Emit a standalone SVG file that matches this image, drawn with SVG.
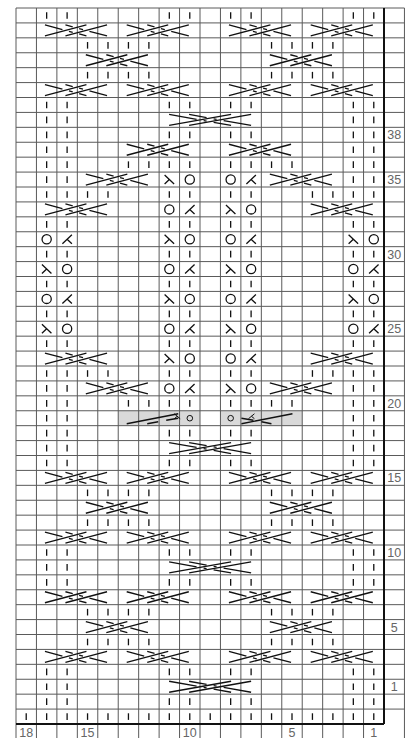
<svg xmlns="http://www.w3.org/2000/svg" width="413" height="738" viewBox="0 0 413 738">
<style>
.g{stroke:#5a5a5a;stroke-width:1;fill:none}
.tk{stroke:#111;stroke-width:2;fill:none}
.s{stroke:#111;stroke-width:1.3;fill:none;stroke-linecap:butt}
.n{font-family:"Liberation Sans",Arial,sans-serif;font-size:12.5px;fill:#666;text-anchor:middle}
</style>
<defs>
<line id="I" class="s" x1="10.22" y1="4.2" x2="10.22" y2="10.8"/>
<circle id="O" class="s" cx="10.22" cy="7.46" r="4.6"/>
<path id="R" class="s" d="M5.5,3 L15,12 M10.2,7.5 L5.5,12"/>
<path id="L" class="s" d="M15,3 L5.5,12 M10.2,7.5 L15,12"/>
<g id="C4" class="s">
<path d="M8.5,13 L50,2 M29,13 L70.6,2"/>
<path d="M8.5,2 L26,6.64 M32.5,8.36 L36.3,9.37 M42.7,11.06 L50,13 M29,2 L36.3,3.93 M42.7,5.62 L46.6,6.65 M53,8.35 L70.6,13"/>
</g>
<g id="C5" class="s">
<path d="M10,13 L72,2 M30,13 L92,2"/>
<path d="M10,2 L37.5,6.88 M44.5,8.12 L47.5,8.65 M54.5,9.9 L72,13 M30,2 L47.5,5.1 M54.5,6.35 L57.5,6.88 M64.5,8.12 L92,13"/>
</g>
<g id="GL" class="s">
<path d="M8.5,13 L60,3"/>
<path d="M29,13 L40,11 M48,9.5 L60,7.5"/>
<path d="M56,3 L62,8 M59,5.5 L56,8" stroke-width="1"/>
<circle cx="71.6" cy="7.46" r="2.8" stroke-width="1"/>
</g>
<g id="GR" class="s">
<circle cx="10.22" cy="7.46" r="2.8" stroke-width="1"/>
<path d="M21,13 L72,3"/>
<path d="M21,7.5 L33,9.5 M41,11 L51,13"/>
<path d="M34,3 L28,8 M31,5.5 L34,8" stroke-width="1"/>
</g>
</defs>
<rect x="118.22" y="410.75" width="81.78" height="14.92" fill="#d9d9d9"/>
<rect x="220.44" y="410.75" width="81.78" height="14.92" fill="#d9d9d9"/>
<g id="grid">
<path class="g" d="M16,8V738.9M36.44,8V738.9M56.89,8V738.9M77.33,8V738.9M97.78,8V738.9M118.22,8V738.9M138.67,8V738.9M159.11,8V738.9M179.56,8V738.9M200,8V738.9M220.44,8V738.9M240.89,8V738.9M261.33,8V738.9M281.78,8V738.9M302.22,8V738.9M322.67,8V738.9M343.11,8V738.9M363.56,8V738.9M404.44,8V738.9"/>
<path class="g" d="M16,8H404.44M16,22.92H404.44M16,37.83H404.44M16,52.75H404.44M16,67.67H404.44M16,82.58H404.44M16,97.5H404.44M16,112.42H404.44M16,127.33H404.44M16,142.25H404.44M16,157.17H404.44M16,172.08H404.44M16,187H404.44M16,201.92H404.44M16,216.83H404.44M16,231.75H404.44M16,246.67H404.44M16,261.58H404.44M16,276.5H404.44M16,291.42H404.44M16,306.33H404.44M16,321.25H404.44M16,336.17H404.44M16,351.08H404.44M16,366H404.44M16,380.92H404.44M16,395.83H404.44M16,410.75H404.44M16,425.67H404.44M16,440.58H404.44M16,455.5H404.44M16,470.42H404.44M16,485.33H404.44M16,500.25H404.44M16,515.17H404.44M16,530.08H404.44M16,545H404.44M16,559.92H404.44M16,574.83H404.44M16,589.75H404.44M16,604.67H404.44M16,619.58H404.44M16,634.5H404.44M16,649.42H404.44M16,664.33H404.44M16,679.25H404.44M16,694.17H404.44M16,709.08H404.44"/>
<path class="tk" d="M384,8V724M16,724H384"/>
</g>
<g id="labels">
<text class="n" x="394.2" y="139">38</text>
<text class="n" x="394.2" y="184">35</text>
<text class="n" x="394.2" y="258.5">30</text>
<text class="n" x="394.2" y="333">25</text>
<text class="n" x="394.2" y="407.7">20</text>
<text class="n" x="394.2" y="482.3">15</text>
<text class="n" x="394.2" y="556.9">10</text>
<text class="n" x="394.2" y="631.5">5</text>
<text class="n" x="394.2" y="691">1</text>
<text class="n" x="26.22" y="736.5">18</text>
<text class="n" x="87.55" y="736.5">15</text>
<text class="n" x="189.78" y="736.5">10</text>
<text class="n" x="292" y="736.5">5</text>
<text class="n" x="373.78" y="736.5">1</text>
</g>
<g id="stitches">
<use href="#I" x="36.44" y="8"/><use href="#I" x="56.89" y="8"/><use href="#I" x="159.11" y="8"/><use href="#I" x="179.56" y="8"/><use href="#I" x="220.44" y="8"/><use href="#I" x="240.89" y="8"/><use href="#I" x="343.11" y="8"/><use href="#I" x="363.56" y="8"/>
<use href="#C4" x="36.44" y="22.92"/><use href="#C4" x="118.22" y="22.92"/><use href="#C4" x="220.44" y="22.92"/><use href="#C4" x="302.22" y="22.92"/>
<use href="#I" x="77.33" y="37.83"/><use href="#I" x="97.78" y="37.83"/><use href="#I" x="118.22" y="37.83"/><use href="#I" x="138.67" y="37.83"/><use href="#I" x="261.33" y="37.83"/><use href="#I" x="281.78" y="37.83"/><use href="#I" x="302.22" y="37.83"/><use href="#I" x="322.67" y="37.83"/>
<use href="#C4" x="77.33" y="52.75"/><use href="#C4" x="261.33" y="52.75"/>
<use href="#I" x="77.33" y="67.67"/><use href="#I" x="97.78" y="67.67"/><use href="#I" x="118.22" y="67.67"/><use href="#I" x="138.67" y="67.67"/><use href="#I" x="261.33" y="67.67"/><use href="#I" x="281.78" y="67.67"/><use href="#I" x="302.22" y="67.67"/><use href="#I" x="322.67" y="67.67"/>
<use href="#C4" x="36.44" y="82.58"/><use href="#C4" x="118.22" y="82.58"/><use href="#C4" x="220.44" y="82.58"/><use href="#C4" x="302.22" y="82.58"/>
<use href="#I" x="36.44" y="97.5"/><use href="#I" x="56.89" y="97.5"/><use href="#I" x="159.11" y="97.5"/><use href="#I" x="179.56" y="97.5"/><use href="#I" x="220.44" y="97.5"/><use href="#I" x="240.89" y="97.5"/><use href="#I" x="343.11" y="97.5"/><use href="#I" x="363.56" y="97.5"/>
<use href="#I" x="36.44" y="112.42"/><use href="#I" x="56.89" y="112.42"/><use href="#C5" x="159.11" y="112.42"/><use href="#I" x="343.11" y="112.42"/><use href="#I" x="363.56" y="112.42"/>
<use href="#I" x="36.44" y="127.33"/><use href="#I" x="56.89" y="127.33"/><use href="#I" x="159.11" y="127.33"/><use href="#I" x="179.56" y="127.33"/><use href="#I" x="220.44" y="127.33"/><use href="#I" x="240.89" y="127.33"/><use href="#I" x="343.11" y="127.33"/><use href="#I" x="363.56" y="127.33"/>
<use href="#I" x="36.44" y="142.25"/><use href="#I" x="56.89" y="142.25"/><use href="#C4" x="118.22" y="142.25"/><use href="#C4" x="220.44" y="142.25"/><use href="#I" x="343.11" y="142.25"/><use href="#I" x="363.56" y="142.25"/>
<use href="#I" x="36.44" y="157.17"/><use href="#I" x="56.89" y="157.17"/><use href="#I" x="118.22" y="157.17"/><use href="#I" x="138.67" y="157.17"/><use href="#I" x="159.11" y="157.17"/><use href="#I" x="179.56" y="157.17"/><use href="#I" x="220.44" y="157.17"/><use href="#I" x="240.89" y="157.17"/><use href="#I" x="261.33" y="157.17"/><use href="#I" x="281.78" y="157.17"/><use href="#I" x="343.11" y="157.17"/><use href="#I" x="363.56" y="157.17"/>
<use href="#I" x="36.44" y="172.08"/><use href="#I" x="56.89" y="172.08"/><use href="#C4" x="77.33" y="172.08"/><use href="#R" x="159.11" y="172.08"/><use href="#O" x="179.56" y="172.08"/><use href="#O" x="220.44" y="172.08"/><use href="#L" x="240.89" y="172.08"/><use href="#C4" x="261.33" y="172.08"/><use href="#I" x="343.11" y="172.08"/><use href="#I" x="363.56" y="172.08"/>
<use href="#I" x="36.44" y="187"/><use href="#I" x="56.89" y="187"/><use href="#I" x="77.33" y="187"/><use href="#I" x="97.78" y="187"/><use href="#I" x="159.11" y="187"/><use href="#I" x="179.56" y="187"/><use href="#I" x="220.44" y="187"/><use href="#I" x="240.89" y="187"/><use href="#I" x="302.22" y="187"/><use href="#I" x="322.67" y="187"/><use href="#I" x="343.11" y="187"/><use href="#I" x="363.56" y="187"/>
<use href="#C4" x="36.44" y="201.92"/><use href="#O" x="159.11" y="201.92"/><use href="#L" x="179.56" y="201.92"/><use href="#R" x="220.44" y="201.92"/><use href="#O" x="240.89" y="201.92"/><use href="#C4" x="302.22" y="201.92"/>
<use href="#I" x="36.44" y="216.83"/><use href="#I" x="56.89" y="216.83"/><use href="#I" x="159.11" y="216.83"/><use href="#I" x="179.56" y="216.83"/><use href="#I" x="220.44" y="216.83"/><use href="#I" x="240.89" y="216.83"/><use href="#I" x="343.11" y="216.83"/><use href="#I" x="363.56" y="216.83"/>
<use href="#O" x="36.44" y="231.75"/><use href="#L" x="56.89" y="231.75"/><use href="#R" x="159.11" y="231.75"/><use href="#O" x="179.56" y="231.75"/><use href="#O" x="220.44" y="231.75"/><use href="#L" x="240.89" y="231.75"/><use href="#R" x="343.11" y="231.75"/><use href="#O" x="363.56" y="231.75"/>
<use href="#I" x="36.44" y="246.67"/><use href="#I" x="56.89" y="246.67"/><use href="#I" x="159.11" y="246.67"/><use href="#I" x="179.56" y="246.67"/><use href="#I" x="220.44" y="246.67"/><use href="#I" x="240.89" y="246.67"/><use href="#I" x="343.11" y="246.67"/><use href="#I" x="363.56" y="246.67"/>
<use href="#R" x="36.44" y="261.58"/><use href="#O" x="56.89" y="261.58"/><use href="#O" x="159.11" y="261.58"/><use href="#L" x="179.56" y="261.58"/><use href="#R" x="220.44" y="261.58"/><use href="#O" x="240.89" y="261.58"/><use href="#O" x="343.11" y="261.58"/><use href="#L" x="363.56" y="261.58"/>
<use href="#I" x="36.44" y="276.5"/><use href="#I" x="56.89" y="276.5"/><use href="#I" x="159.11" y="276.5"/><use href="#I" x="179.56" y="276.5"/><use href="#I" x="220.44" y="276.5"/><use href="#I" x="240.89" y="276.5"/><use href="#I" x="343.11" y="276.5"/><use href="#I" x="363.56" y="276.5"/>
<use href="#O" x="36.44" y="291.42"/><use href="#L" x="56.89" y="291.42"/><use href="#R" x="159.11" y="291.42"/><use href="#O" x="179.56" y="291.42"/><use href="#O" x="220.44" y="291.42"/><use href="#L" x="240.89" y="291.42"/><use href="#R" x="343.11" y="291.42"/><use href="#O" x="363.56" y="291.42"/>
<use href="#I" x="36.44" y="306.33"/><use href="#I" x="56.89" y="306.33"/><use href="#I" x="159.11" y="306.33"/><use href="#I" x="179.56" y="306.33"/><use href="#I" x="220.44" y="306.33"/><use href="#I" x="240.89" y="306.33"/><use href="#I" x="343.11" y="306.33"/><use href="#I" x="363.56" y="306.33"/>
<use href="#R" x="36.44" y="321.25"/><use href="#O" x="56.89" y="321.25"/><use href="#O" x="159.11" y="321.25"/><use href="#L" x="179.56" y="321.25"/><use href="#R" x="220.44" y="321.25"/><use href="#O" x="240.89" y="321.25"/><use href="#O" x="343.11" y="321.25"/><use href="#L" x="363.56" y="321.25"/>
<use href="#I" x="36.44" y="336.17"/><use href="#I" x="56.89" y="336.17"/><use href="#I" x="159.11" y="336.17"/><use href="#I" x="179.56" y="336.17"/><use href="#I" x="220.44" y="336.17"/><use href="#I" x="240.89" y="336.17"/><use href="#I" x="343.11" y="336.17"/><use href="#I" x="363.56" y="336.17"/>
<use href="#C4" x="36.44" y="351.08"/><use href="#R" x="159.11" y="351.08"/><use href="#O" x="179.56" y="351.08"/><use href="#O" x="220.44" y="351.08"/><use href="#L" x="240.89" y="351.08"/><use href="#C4" x="302.22" y="351.08"/>
<use href="#I" x="36.44" y="366"/><use href="#I" x="56.89" y="366"/><use href="#I" x="77.33" y="366"/><use href="#I" x="97.78" y="366"/><use href="#I" x="159.11" y="366"/><use href="#I" x="179.56" y="366"/><use href="#I" x="220.44" y="366"/><use href="#I" x="240.89" y="366"/><use href="#I" x="302.22" y="366"/><use href="#I" x="322.67" y="366"/><use href="#I" x="343.11" y="366"/><use href="#I" x="363.56" y="366"/>
<use href="#I" x="36.44" y="380.92"/><use href="#I" x="56.89" y="380.92"/><use href="#C4" x="77.33" y="380.92"/><use href="#O" x="159.11" y="380.92"/><use href="#L" x="179.56" y="380.92"/><use href="#R" x="220.44" y="380.92"/><use href="#O" x="240.89" y="380.92"/><use href="#C4" x="261.33" y="380.92"/><use href="#I" x="343.11" y="380.92"/><use href="#I" x="363.56" y="380.92"/>
<use href="#I" x="36.44" y="395.83"/><use href="#I" x="56.89" y="395.83"/><use href="#I" x="118.22" y="395.83"/><use href="#I" x="138.67" y="395.83"/><use href="#I" x="159.11" y="395.83"/><use href="#I" x="179.56" y="395.83"/><use href="#I" x="220.44" y="395.83"/><use href="#I" x="240.89" y="395.83"/><use href="#I" x="261.33" y="395.83"/><use href="#I" x="281.78" y="395.83"/><use href="#I" x="343.11" y="395.83"/><use href="#I" x="363.56" y="395.83"/>
<use href="#I" x="36.44" y="410.75"/><use href="#I" x="56.89" y="410.75"/><use href="#GL" x="118.22" y="410.75"/><use href="#GR" x="220.44" y="410.75"/><use href="#I" x="343.11" y="410.75"/><use href="#I" x="363.56" y="410.75"/>
<use href="#I" x="36.44" y="425.67"/><use href="#I" x="56.89" y="425.67"/><use href="#I" x="159.11" y="425.67"/><use href="#I" x="179.56" y="425.67"/><use href="#I" x="220.44" y="425.67"/><use href="#I" x="240.89" y="425.67"/><use href="#I" x="343.11" y="425.67"/><use href="#I" x="363.56" y="425.67"/>
<use href="#I" x="36.44" y="440.58"/><use href="#I" x="56.89" y="440.58"/><use href="#C5" x="159.11" y="440.58"/><use href="#I" x="343.11" y="440.58"/><use href="#I" x="363.56" y="440.58"/>
<use href="#I" x="36.44" y="455.5"/><use href="#I" x="56.89" y="455.5"/><use href="#I" x="159.11" y="455.5"/><use href="#I" x="179.56" y="455.5"/><use href="#I" x="220.44" y="455.5"/><use href="#I" x="240.89" y="455.5"/><use href="#I" x="343.11" y="455.5"/><use href="#I" x="363.56" y="455.5"/>
<use href="#C4" x="36.44" y="470.42"/><use href="#C4" x="118.22" y="470.42"/><use href="#C4" x="220.44" y="470.42"/><use href="#C4" x="302.22" y="470.42"/>
<use href="#I" x="77.33" y="485.33"/><use href="#I" x="97.78" y="485.33"/><use href="#I" x="118.22" y="485.33"/><use href="#I" x="138.67" y="485.33"/><use href="#I" x="261.33" y="485.33"/><use href="#I" x="281.78" y="485.33"/><use href="#I" x="302.22" y="485.33"/><use href="#I" x="322.67" y="485.33"/>
<use href="#C4" x="77.33" y="500.25"/><use href="#C4" x="261.33" y="500.25"/>
<use href="#I" x="77.33" y="515.17"/><use href="#I" x="97.78" y="515.17"/><use href="#I" x="118.22" y="515.17"/><use href="#I" x="138.67" y="515.17"/><use href="#I" x="261.33" y="515.17"/><use href="#I" x="281.78" y="515.17"/><use href="#I" x="302.22" y="515.17"/><use href="#I" x="322.67" y="515.17"/>
<use href="#C4" x="36.44" y="530.08"/><use href="#C4" x="118.22" y="530.08"/><use href="#C4" x="220.44" y="530.08"/><use href="#C4" x="302.22" y="530.08"/>
<use href="#I" x="36.44" y="545"/><use href="#I" x="56.89" y="545"/><use href="#I" x="159.11" y="545"/><use href="#I" x="179.56" y="545"/><use href="#I" x="220.44" y="545"/><use href="#I" x="240.89" y="545"/><use href="#I" x="343.11" y="545"/><use href="#I" x="363.56" y="545"/>
<use href="#I" x="36.44" y="559.92"/><use href="#I" x="56.89" y="559.92"/><use href="#C5" x="159.11" y="559.92"/><use href="#I" x="343.11" y="559.92"/><use href="#I" x="363.56" y="559.92"/>
<use href="#I" x="36.44" y="574.83"/><use href="#I" x="56.89" y="574.83"/><use href="#I" x="159.11" y="574.83"/><use href="#I" x="179.56" y="574.83"/><use href="#I" x="220.44" y="574.83"/><use href="#I" x="240.89" y="574.83"/><use href="#I" x="343.11" y="574.83"/><use href="#I" x="363.56" y="574.83"/>
<use href="#C4" x="36.44" y="589.75"/><use href="#C4" x="118.22" y="589.75"/><use href="#C4" x="220.44" y="589.75"/><use href="#C4" x="302.22" y="589.75"/>
<use href="#I" x="77.33" y="604.67"/><use href="#I" x="97.78" y="604.67"/><use href="#I" x="118.22" y="604.67"/><use href="#I" x="138.67" y="604.67"/><use href="#I" x="261.33" y="604.67"/><use href="#I" x="281.78" y="604.67"/><use href="#I" x="302.22" y="604.67"/><use href="#I" x="322.67" y="604.67"/>
<use href="#C4" x="77.33" y="619.58"/><use href="#C4" x="261.33" y="619.58"/>
<use href="#I" x="77.33" y="634.5"/><use href="#I" x="97.78" y="634.5"/><use href="#I" x="118.22" y="634.5"/><use href="#I" x="138.67" y="634.5"/><use href="#I" x="261.33" y="634.5"/><use href="#I" x="281.78" y="634.5"/><use href="#I" x="302.22" y="634.5"/><use href="#I" x="322.67" y="634.5"/>
<use href="#C4" x="36.44" y="649.42"/><use href="#C4" x="118.22" y="649.42"/><use href="#C4" x="220.44" y="649.42"/><use href="#C4" x="302.22" y="649.42"/>
<use href="#I" x="36.44" y="664.33"/><use href="#I" x="56.89" y="664.33"/><use href="#I" x="159.11" y="664.33"/><use href="#I" x="179.56" y="664.33"/><use href="#I" x="220.44" y="664.33"/><use href="#I" x="240.89" y="664.33"/><use href="#I" x="343.11" y="664.33"/><use href="#I" x="363.56" y="664.33"/>
<use href="#I" x="36.44" y="679.25"/><use href="#I" x="56.89" y="679.25"/><use href="#C5" x="159.11" y="679.25"/><use href="#I" x="343.11" y="679.25"/><use href="#I" x="363.56" y="679.25"/>
<use href="#I" x="36.44" y="694.17"/><use href="#I" x="56.89" y="694.17"/><use href="#I" x="159.11" y="694.17"/><use href="#I" x="179.56" y="694.17"/><use href="#I" x="220.44" y="694.17"/><use href="#I" x="240.89" y="694.17"/><use href="#I" x="343.11" y="694.17"/><use href="#I" x="363.56" y="694.17"/>
<use href="#I" x="16" y="709.08"/><use href="#I" x="36.44" y="709.08"/><use href="#I" x="56.89" y="709.08"/><use href="#I" x="77.33" y="709.08"/><use href="#I" x="97.78" y="709.08"/><use href="#I" x="118.22" y="709.08"/><use href="#I" x="138.67" y="709.08"/><use href="#I" x="159.11" y="709.08"/><use href="#I" x="179.56" y="709.08"/><use href="#I" x="200" y="709.08"/><use href="#I" x="220.44" y="709.08"/><use href="#I" x="240.89" y="709.08"/><use href="#I" x="261.33" y="709.08"/><use href="#I" x="281.78" y="709.08"/><use href="#I" x="302.22" y="709.08"/><use href="#I" x="322.67" y="709.08"/><use href="#I" x="343.11" y="709.08"/><use href="#I" x="363.56" y="709.08"/>
</g>
</svg>
